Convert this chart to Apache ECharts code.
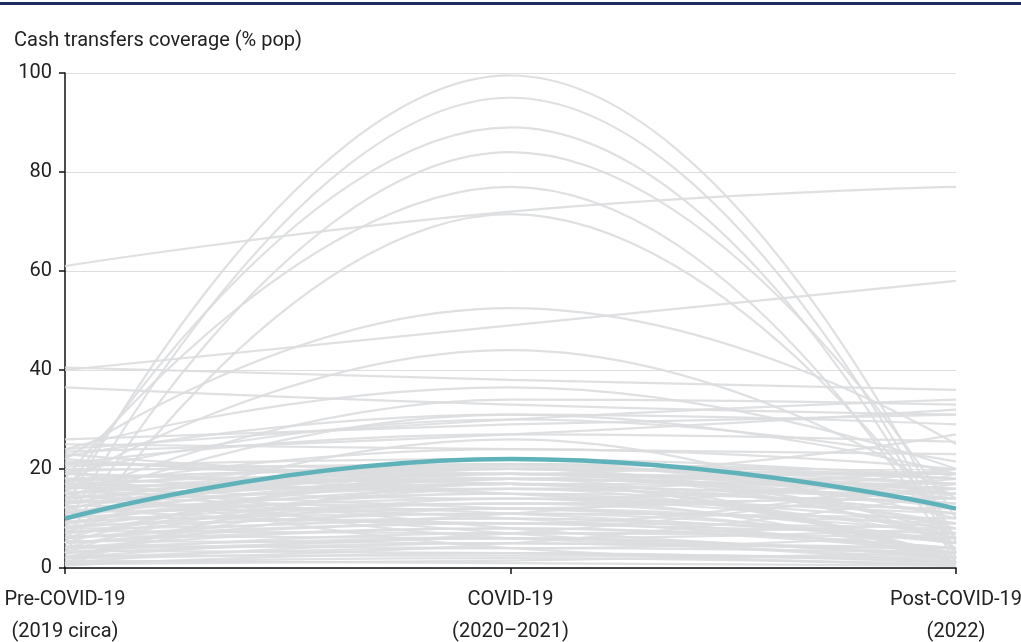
<!DOCTYPE html>
<html>
<head>
<meta charset="utf-8">
<script src="https://cdn.jsdelivr.net/npm/echarts@6/dist/echarts.min.js"></script>
<style>
  html, body { margin: 0; padding: 0; background: #fff; }
  #chart { width: 1021px; height: 642px; }
</style>
</head>
<body>
<div id="chart"></div>
<script>
// Period labels on the x axis
const periods = ['Pre-COVID-19\n(2019 circa)', 'COVID-19\n(2020–2021)', 'Post-COVID-19\n(2022)'];
const yTicks = [0, 20, 40, 60, 80, 100];

// Coverage per country (% of population) in each period
const preCovid = [
  61, 40, 40.5, 36.5, 12, 8, 15, 5, 18, 3,
  22, 17, 24, 14, 26, 24, 22.5, 21, 25, 19,
  13, 9, 7, 11, 19, 16, 13, 10, 5, 2,
  18, 17, 16, 15, 14, 13, 12, 11, 10, 9,
  8, 7, 6, 5, 4, 3, 2, 1, 0.5, 1,
  2, 3, 4, 5, 6, 7, 8, 9, 10, 11,
  12, 13, 14, 15, 16, 17, 18, 19, 20, 19.5,
  17.5, 16.5, 15.5, 14.5, 13.5, 12.5, 11.5, 10.5, 9.5, 8.5,
  7.5, 6.5, 5.5, 4.5, 3.5, 2.5, 1.5, 0.8, 20.5, 21,
  23, 22, 2, 1, 4, 6, 3, 0.5, 8, 12,
  4, 2, 18, 15, 20, 17, 23.5, 21.5
];
const covid = [
  72, 49, 38, 33, 99.5, 95, 89, 84, 77, 71.5,
  52.5, 44, 36.5, 34, 29, 30, 31, 27, 24, 30,
  31, 17, 26, 19, 15, 24, 18, 21, 19, 14,
  20, 19, 21, 18, 17, 16, 19, 15, 14, 13,
  12, 11, 10, 9, 8, 7, 6, 5, 3, 2,
  4, 5, 6, 8, 9, 13, 15, 16, 18, 17,
  20, 21, 19, 20, 18, 16, 15, 17, 19, 21,
  20.5, 14, 12, 11, 10, 13, 12, 9, 11, 10,
  7, 6, 5, 4, 3, 2.5, 1, 1.5, 22, 20,
  18, 17, 12, 17, 16, 18, 20, 17, 11, 9,
  7, 5, 8, 7, 6, 4, 27, 19
];
const postCovid = [
  77, 58, 36, 31, 5, 3, 2, 10, 1, 6,
  25, 14, 20, 33, 31, 34, 29, 25.5, 23, 21.5,
  19, 2, 4, 6, 8, 20, 19, 18, 16, 1,
  17, 14, 19, 12, 16, 11, 8, 13, 9, 12,
  7, 10, 5, 8, 3, 6, 2, 4, 1, 0.5,
  3, 1, 2, 4, 3, 5, 6, 11, 15, 9,
  18, 10, 17, 7, 13, 20, 11, 14, 16, 12,
  15, 18, 9, 6, 4, 14, 16, 7, 5, 2,
  9, 8, 4, 7, 2, 1.5, 0.5, 3, 18, 19,
  17, 15, 3, 1, 2, 1, 5, 0.8, 20, 19,
  17, 15, 3, 2, 4, 1, 32, 27
];

// Highlighted average line
const averageLine = [10, 22, 12];

const FONT = 'Roboto, sans-serif';

const grayLines = preCovid.map((p, i) => ({
  type: 'line',
  data: [p, covid[i], postCovid[i]],
  smooth: 0.5,
  symbol: 'none',
  silent: true,
  z: 2,
  lineStyle: { color: '#dcdddf', width: 2.2, opacity: 0.9 }
}));

const chart = echarts.init(document.getElementById('chart'), null, { renderer: 'canvas' });
chart.setOption({
  animation: false,
  backgroundColor: '#ffffff',
  textStyle: { fontFamily: FONT },
  grid: { left: 65, right: 65, top: 73, bottom: 74, containLabel: false, outerBoundsMode: 'none' },
  graphic: [
    { type: 'rect', left: 0, top: 2, shape: { width: 1021, height: 3 }, style: { fill: '#1f2a5e' } },
    { type: 'text', left: 14, top: 31, style: { text: 'Cash transfers coverage (% pop)', fontSize: 20, fill: '#222', fontFamily: FONT } }
  ],
  xAxis: {
    type: 'category',
    data: periods,
    boundaryGap: false,
    axisLine: { lineStyle: { color: '#111', width: 1.5 } },
    axisTick: { show: true, length: 6, lineStyle: { color: '#111', width: 1.5 } },
    axisLabel: { color: '#222', fontSize: 20, lineHeight: 32, margin: 16, fontFamily: FONT },
    splitLine: { show: false }
  },
  yAxis: {
    type: 'value',
    min: 0,
    max: 100,
    interval: 20,
    axisLine: { show: true, lineStyle: { color: '#111', width: 1.5 } },
    axisTick: { show: true, length: 6, lineStyle: { color: '#111', width: 1.5 } },
    axisLabel: {
      color: '#222', fontSize: 20, margin: 13, fontFamily: FONT,
      formatter: v => (yTicks.includes(v) ? String(v) : '')
    },
    splitLine: { show: true, lineStyle: { color: '#dedede', width: 1 } }
  },
  series: grayLines.concat([{
    type: 'line',
    data: averageLine,
    smooth: 0.5,
    symbol: 'none',
    silent: true,
    z: 5,
    lineStyle: { color: '#5fb2b9', width: 4.5 }
  }])
});
</script>
</body>
</html>
